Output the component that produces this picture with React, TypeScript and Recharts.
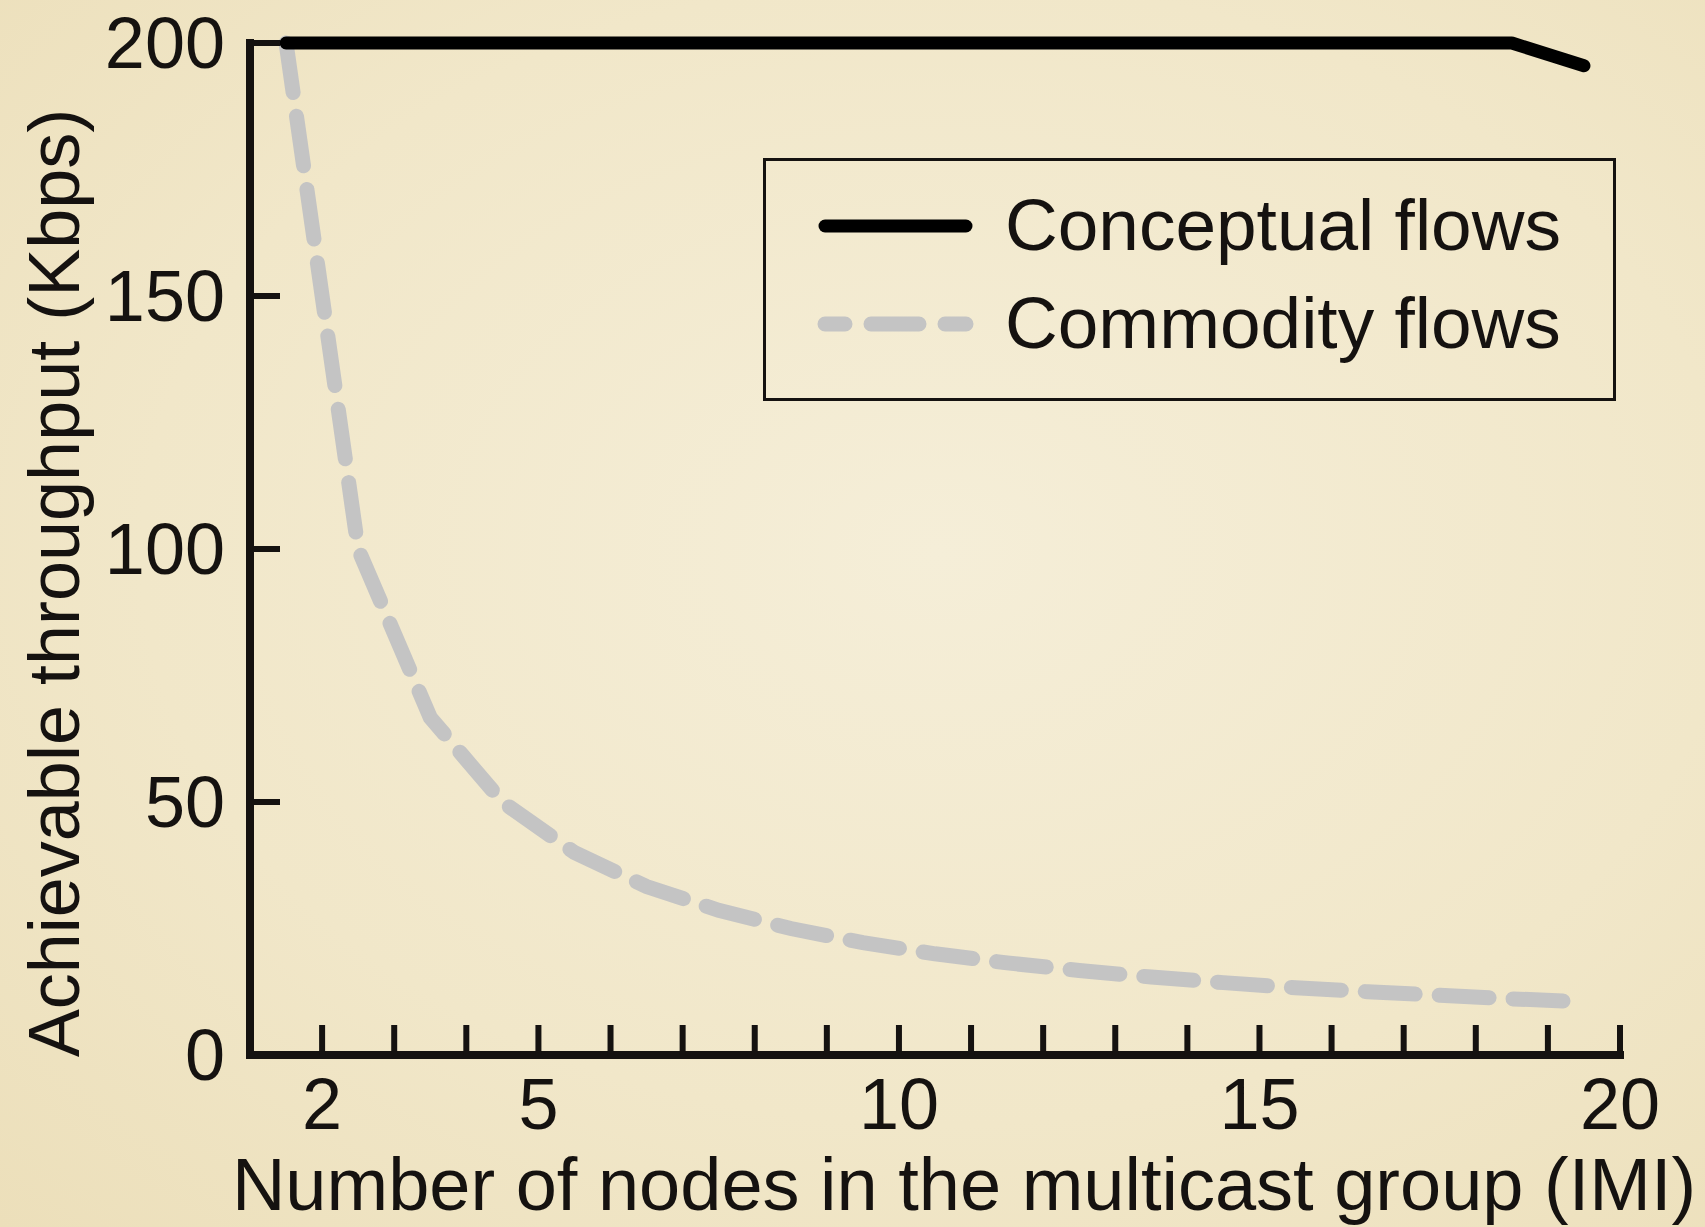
import React from 'react';
import { LineChart, Line, XAxis, YAxis, Legend } from 'recharts';

// Data
const groupSizes = [1.5, 2.5, 3.5, 4.5, 5.5, 6.5, 7.5, 8.5, 9.5, 10.5, 11.5, 12.5, 13.5, 14.5, 15.5, 16.5, 17.5, 18.5, 19.5];
const conceptualFlows = [200, 200, 200, 200, 200, 200, 200, 200, 200, 200, 200, 200, 200, 200, 200, 200, 200, 200, 195.5];
const commodityFlows = [200, 100, 66.7, 50, 40, 33.3, 28.6, 25, 22.2, 20, 18.2, 16.7, 15.4, 14.3, 13.3, 12.5, 11.8, 11.1, 10.5];
const xTicks = [2, 3, 4, 5, 6, 7, 8, 9, 10, 11, 12, 13, 14, 15, 16, 17, 18, 19, 20];
const xTickLabels = [2, 5, 10, 15, 20];
const yTicks = [0, 50, 100, 150, 200];
const seriesNames = ['Conceptual flows', 'Commodity flows'];
const xAxisTitle = 'Number of nodes in the multicast group (IMI)';
const yAxisTitle = 'Achievable throughput (Kbps)';

const data = groupSizes.map((x, i) => ({
  x,
  conceptual: conceptualFlows[i],
  commodity: commodityFlows[i],
}));

const FONT = '"Liberation Sans", Arial, Helvetica, sans-serif';
const INK = '#151210';
const GRAY = '#c4c4c4';
const DASH = '50 24';

const renderXTick = (props: any) => {
  const { x, y, payload } = props;
  const v = payload.value;
  return (
    <g>
      <line x1={x} x2={x} y1={y} y2={y - 30} stroke={INK} strokeWidth={6} />
      {xTickLabels.includes(v) && (
        <text x={x} y={y + 74} textAnchor="middle" fontFamily={FONT} fontSize={72} fill={INK}>
          {v}
        </text>
      )}
    </g>
  );
};

const renderYTick = (props: any) => {
  const { x, y, payload } = props;
  const v = payload.value;
  return (
    <g>
      {v !== 0 && <line x1={x} x2={x + 30} y1={y} y2={y} stroke={INK} strokeWidth={6} />}
      <text x={x - 25} y={y + 25} textAnchor="end" fontFamily={FONT} fontSize={72} fill={INK}>
        {v}
      </text>
    </g>
  );
};

const renderXTitle = () => (
  <text x={964} y={1210} textAnchor="middle" fontFamily={FONT} fontSize={74} fill={INK}>
    {xAxisTitle}
  </text>
);

const renderYTitle = () => (
  <text
    x={79}
    y={583}
    transform="rotate(-90 79 583)"
    textAnchor="middle"
    fontFamily={FONT}
    fontSize={72}
    fill={INK}
  >
    {yAxisTitle}
  </text>
);

const LegendBox = () => (
  <svg width={853} height={243} style={{ display: 'block' }}>
    <rect x={1.5} y={1.5} width={850} height={240} fill="none" stroke={INK} strokeWidth={3} />
    <line x1={62} x2={203} y1={68} y2={68} stroke="#000" strokeWidth={13} strokeLinecap="round" />
    <text x={242} y={92} fontFamily={FONT} fontSize={73} fill={INK}>
      {seriesNames[0]}
    </text>
    <line
      x1={62}
      x2={203}
      y1={166}
      y2={166}
      stroke={GRAY}
      strokeWidth={15}
      strokeLinecap="round"
      strokeDasharray="48 26"
      strokeDashoffset={28}
    />
    <text x={242} y={190} fontFamily={FONT} fontSize={73} fill={INK}>
      {seriesNames[1]}
    </text>
  </svg>
);

export default function App() {
  return (
    <div
      style={{
        position: 'absolute',
        left: 0,
        top: 0,
        width: 1705,
        height: 1227,
        background: 'radial-gradient(ellipse at 55% 45%, #f5eed8 0%, #f1e7c9 60%, #ecdfba 100%)',
        overflow: 'hidden',
      }}
    >
      <LineChart width={1705} height={1227} data={data} margin={{ top: 43, right: 85, bottom: 0, left: 0 }}>
        <XAxis
          type="number"
          dataKey="x"
          domain={[1, 20]}
          ticks={xTicks}
          interval={0}
          height={172}
          tickSize={0}
          tickMargin={0}
          tickLine={false}
          axisLine={{ stroke: INK, strokeWidth: 8, strokeLinecap: 'square' }}
          tick={renderXTick}
          label={{ content: renderXTitle }}
        />
        <YAxis
          type="number"
          domain={[0, 200]}
          ticks={yTicks}
          interval={0}
          width={250}
          tickSize={0}
          tickMargin={0}
          tickLine={false}
          axisLine={{ stroke: INK, strokeWidth: 8, strokeLinecap: 'square' }}
          tick={renderYTick}
          label={{ content: renderYTitle }}
        />
        <Legend
          layout="vertical"
          align="center"
          verticalAlign="middle"
          wrapperStyle={{ left: 763, top: 158, width: 853, height: 243 }}
          content={() => <LegendBox />}
        />
        <Line
          type="linear"
          dataKey="commodity"
          name={seriesNames[1]}
          stroke={GRAY}
          strokeWidth={15}
          strokeLinecap="round"
          strokeDasharray={DASH}
          dot={false}
          activeDot={false}
          isAnimationActive={false}
        />
        <Line
          type="linear"
          dataKey="conceptual"
          name={seriesNames[0]}
          stroke="#000"
          strokeWidth={13}
          strokeLinecap="round"
          strokeLinejoin="round"
          dot={false}
          activeDot={false}
          isAnimationActive={false}
        />
      </LineChart>
    </div>
  );
}
